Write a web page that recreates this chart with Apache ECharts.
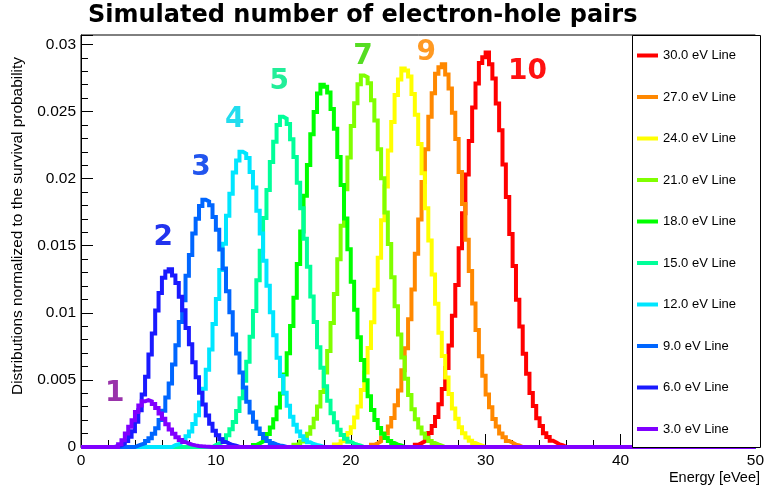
<!DOCTYPE html>
<html>
<head>
<meta charset="utf-8">
<script src="https://cdn.jsdelivr.net/npm/echarts@6/dist/echarts.min.js"></script>
<style>
  html, body { margin: 0; padding: 0; background: #fff; }
  #chart { width: 767px; height: 488px; }
</style>
</head>
<body>
<div id="chart"></div>
<script>
// Histogram binning (eVee)
const BIN_WIDTH = 0.25;
const X_MIN = 0;
const X_MAX = 50;

// One histogram per line energy, listed as in the legend (top to bottom)
const lineNames = ['30.0 eV Line', '27.0 eV Line', '24.0 eV Line', '21.0 eV Line', '18.0 eV Line',
                   '15.0 eV Line', '12.0 eV Line', '9.0 eV Line', '6.0 eV Line', '3.0 eV Line'];
const lineColors = ['#ff0000', '#ff8800', '#ffff00', '#80ff00', '#00ff00',
                    '#00ff99', '#00e6ff', '#0066ff', '#1a1aff', '#8000ff'];
// Low edge of the first non-empty bin of each histogram
const lineStarts = [24.75, 21.5, 18.75, 15.75, 12.75, 9.75, 6.75, 4.0, 2.5, 2.75];

// Bin contents (non-empty range), normalized to the survival probability
const h30 = [0.00017, 0.00029, 0.00043, 0.00071, 0.00104, 0.00157, 0.00224, 0.00318, 0.00433, 0.00588, 0.00757,
  0.00978, 0.01208, 0.01481, 0.01742, 0.02031, 0.02281, 0.02530, 0.02708, 0.02862, 0.02905,
  0.02940, 0.02852, 0.02745, 0.02560, 0.02361, 0.02105, 0.01862, 0.01588, 0.01349, 0.01098, 0.00897,
  0.00694, 0.00546, 0.00403, 0.00305, 0.00214, 0.00157, 0.00103, 0.00074, 0.00046, 0.00033, 0.00019, 0.00012];
const h27 = [0.00016, 0.00028, 0.00042, 0.00069, 0.00101, 0.00153, 0.00217, 0.00311, 0.00421, 0.00571, 0.00736,
  0.00951, 0.01174, 0.01440, 0.01695, 0.01975, 0.02218, 0.02461, 0.02636, 0.02781, 0.02830,
  0.02852, 0.02775, 0.02672, 0.02490, 0.02295, 0.02049, 0.01810, 0.01544, 0.01311, 0.01069, 0.00871,
  0.00677, 0.00531, 0.00392, 0.00297, 0.00208, 0.00153, 0.00101, 0.00072, 0.00045, 0.00032, 0.00018, 0.00012];
const h24 = [0.00018, 0.00026, 0.00043, 0.00067, 0.00104, 0.00147, 0.00219, 0.00302, 0.00424, 0.00556, 0.00738,
  0.00930, 0.01172, 0.01411, 0.01690, 0.01941, 0.02209, 0.02421, 0.02622, 0.02738, 0.02820,
  0.02805, 0.02760, 0.02630, 0.02476, 0.02258, 0.02040, 0.01779, 0.01539, 0.01286, 0.01068, 0.00852,
  0.00679, 0.00518, 0.00395, 0.00287, 0.00211, 0.00147, 0.00103, 0.00070, 0.00046, 0.00030, 0.00020, 0.00011];
const h21 = [0.00017, 0.00026, 0.00041, 0.00067, 0.00099, 0.00148, 0.00211, 0.00302, 0.00409, 0.00555, 0.00716,
  0.00924, 0.01141, 0.01399, 0.01648, 0.01921, 0.02157, 0.02392, 0.02561, 0.02703, 0.02768,
  0.02755, 0.02710, 0.02583, 0.02433, 0.02218, 0.02003, 0.01747, 0.01512, 0.01264, 0.01049, 0.00838,
  0.00666, 0.00509, 0.00388, 0.00282, 0.00207, 0.00145, 0.00101, 0.00068, 0.00045, 0.00029, 0.00019, 0.00011];
const h18 = [0.00015, 0.00027, 0.00040, 0.00066, 0.00096, 0.00145, 0.00206, 0.00295, 0.00398, 0.00541, 0.00698,
  0.00901, 0.01112, 0.01364, 0.01606, 0.01872, 0.02102, 0.02331, 0.02496, 0.02634, 0.02700,
  0.02685, 0.02641, 0.02518, 0.02371, 0.02161, 0.01952, 0.01703, 0.01474, 0.01231, 0.01022, 0.00817,
  0.00649, 0.00497, 0.00378, 0.00275, 0.00202, 0.00141, 0.00098, 0.00067, 0.00044, 0.00029, 0.00018, 0.00012];
const h15 = [0.00014, 0.00025, 0.00036, 0.00060, 0.00088, 0.00132, 0.00187, 0.00268, 0.00363, 0.00494, 0.00636,
  0.00821, 0.01013, 0.01242, 0.01463, 0.01706, 0.01915, 0.02124, 0.02274, 0.02399, 0.02460,
  0.02446, 0.02407, 0.02293, 0.02161, 0.01969, 0.01779, 0.01551, 0.01343, 0.01122, 0.00931, 0.00744,
  0.00591, 0.00452, 0.00345, 0.00251, 0.00184, 0.00128, 0.00090, 0.00061, 0.00040, 0.00026, 0.00017, 0.00010];
const h12 = [0.00014, 0.00020, 0.00034, 0.00052, 0.00080, 0.00115, 0.00171, 0.00236, 0.00331, 0.00434, 0.00576,
  0.00726, 0.00916, 0.01102, 0.01318, 0.01514, 0.01724, 0.01888, 0.02045, 0.02135, 0.02200,
  0.02186, 0.02153, 0.02050, 0.01933, 0.01761, 0.01591, 0.01388, 0.01201, 0.01004, 0.00833, 0.00665,
  0.00529, 0.00404, 0.00308, 0.00225, 0.00165, 0.00115, 0.00080, 0.00054, 0.00036, 0.00023, 0.00015, 0.00009];
const h9 = [0.00010, 0.00019, 0.00027, 0.00045, 0.00065, 0.00099, 0.00140, 0.00202, 0.00271, 0.00369, 0.00474,
  0.00615, 0.00758, 0.00931, 0.01093, 0.01276, 0.01431, 0.01590, 0.01700, 0.01796, 0.01842,
  0.01829, 0.01801, 0.01714, 0.01618, 0.01472, 0.01331, 0.01160, 0.01005, 0.00839, 0.00697, 0.00556,
  0.00443, 0.00338, 0.00258, 0.00188, 0.00137, 0.00097, 0.00067, 0.00045, 0.00030, 0.00019, 0.00012, 0.00008];
const h6 = [0.00007, 0.00012, 0.00026, 0.00044, 0.00077, 0.00118, 0.00188, 0.00273, 0.00392, 0.00524, 0.00690,
  0.00845, 0.01018, 0.01147, 0.01262, 0.01308,
  0.01324, 0.01277, 0.01222, 0.01120, 0.01019, 0.00886, 0.00766, 0.00631, 0.00519, 0.00405, 0.00316,
  0.00234, 0.00174, 0.00122, 0.00087, 0.00057, 0.00038, 0.00025, 0.00015, 0.00009];
const h3 = [0.00020, 0.00050, 0.00100, 0.00150, 0.00200, 0.00260, 0.00310, 0.00340, 0.00350, 0.00340, 0.00320,
  0.00290, 0.00250, 0.00210, 0.00170, 0.00130, 0.00098, 0.00072, 0.00052, 0.00037, 0.00026, 0.00018,
  0.00012, 0.00008, 0.00005, 0.00003, 0.00002];
const lineValues = [h30, h27, h24, h21, h18, h15, h12, h9, h6, h3];

// Number of electron-hole pairs written next to the peaks
const pairLabels = ['1', '2', '3', '4', '5', '7', '9', '10'];
const pairLabelEnergy = [2.5, 6.1, 8.9, 11.4, 14.7, 20.9, 25.6, 33.1];
const pairLabelValue = [0.0040, 0.0156, 0.0208, 0.0244, 0.0272, 0.0291, 0.0294, 0.0280];
const pairLabelColors = ['#9933aa', '#2233ee', '#2255ee', '#22ddee', '#22ee99', '#55dd22', '#ff9922', '#ff1111'];

// Axis settings
const Y_MAX = 0.0307;
const Y_MAJOR = 0.005;
const Y_MINOR = 0.001;
const X_MAJOR = 10;

const TEXT_FONT = '"Liberation Sans", Arial, sans-serif';
const BOLD_FONT = '"DejaVu Sans", Verdana, sans-serif';

// Full histogram as bin low edges plus a closing point at the upper range edge
function histPoints(start, values) {
  const nBins = Math.round((X_MAX - X_MIN) / BIN_WIDTH);
  const first = Math.round((start - X_MIN) / BIN_WIDTH);
  const pts = [];
  for (let k = 0; k < nBins; k++) {
    const j = k - first;
    const v = (j >= 0 && j < values.length) ? values[j] : 0;
    pts.push([X_MIN + k * BIN_WIDTH, v]);
  }
  pts.push([X_MAX, pts[nBins - 1][1]]);
  return pts;
}

const histSeries = lineNames.map((name, i) => ({
  name: name,
  type: 'line',
  step: 'end',
  showSymbol: false,
  symbol: 'none',
  color: lineColors[i],
  lineStyle: { color: lineColors[i], width: 4, join: 'miter', cap: 'butt' },
  data: histPoints(lineStarts[i], lineValues[i]),
  silent: true,
  animation: false,
  emphasis: { disabled: true },
  z: 2
}));

const labelSeries = {
  type: 'scatter',
  symbolSize: 1,
  itemStyle: { color: 'rgba(0,0,0,0)', opacity: 1 },
  silent: true,
  animation: false,
  emphasis: { disabled: true },
  z: 5,
  data: pairLabels.map((t, i) => ({
    name: t,
    value: [pairLabelEnergy[i], pairLabelValue[i]],
    label: { color: pairLabelColors[i] }
  })),
  label: {
    show: true,
    position: 'inside',
    opacity: 1,
    formatter: p => p.name,
    fontFamily: BOLD_FONT,
    fontWeight: 'bold',
    fontSize: 28
  }
};

const chart = echarts.init(document.getElementById('chart'), null, { renderer: 'canvas' });

chart.setOption({
  animation: false,
  backgroundColor: '#fff',
  title: {
    text: 'Simulated number of electron-hole pairs',
    left: 88,
    top: 4,
    padding: 0,
    textStyle: { fontFamily: BOLD_FONT, fontWeight: 'bold', fontSize: 24, color: '#000' }
  },
  grid: {
    left: 81, right: 6, top: 35, bottom: 41,
    show: true, borderColor: '#000', borderWidth: 1, backgroundColor: '#fff'
  },
  xAxis: [{
    type: 'value', min: X_MIN, max: X_MAX, interval: X_MAJOR,
    axisLine: { show: true, onZero: false, lineStyle: { color: '#000', width: 1 } },
    axisTick: { show: true, inside: true, length: 13, lineStyle: { color: '#000', width: 1 } },
    minorTick: { show: true, splitNumber: 5, length: 7, lineStyle: { color: '#000', width: 1 } },
    axisLabel: { margin: 6, fontFamily: TEXT_FONT, fontSize: 15.5, color: '#000' },
    splitLine: { show: false },
    minorSplitLine: { show: false }
  }],
  yAxis: [{
    type: 'value', min: 0, max: Y_MAX, interval: Y_MAJOR, position: 'left',
    axisLine: { show: true, onZero: false, lineStyle: { color: '#000', width: 1 } },
    axisTick: { show: true, inside: true, length: 12, lineStyle: { color: '#000', width: 1 } },
    axisLabel: {
      margin: 5, fontFamily: TEXT_FONT, fontSize: 15.5, color: '#000', showMaxLabel: true,
      formatter: v => {
        const q = v / Y_MAJOR;
        return Math.abs(q - Math.round(q)) < 1e-6 ? String(+v.toFixed(3)) : '';
      }
    },
    splitLine: { show: false }
  }, {
    type: 'value', min: 0, max: Y_MAX, interval: Y_MINOR, position: 'left',
    axisLine: { show: false },
    axisTick: { show: true, inside: true, length: 7, lineStyle: { color: '#000', width: 1 } },
    axisLabel: { show: false },
    splitLine: { show: false }
  }],
  legend: {
    orient: 'vertical',
    left: 637,
    top: 49,
    padding: 0,
    itemWidth: 21,
    itemHeight: 4,
    itemGap: 28.5,
    icon: 'rect',
    selectedMode: false,
    z: 20,
    data: lineNames,
    textStyle: { fontFamily: TEXT_FONT, fontSize: 13, color: '#000' }
  },
  graphic: [
    {
      type: 'rect', z: 10, silent: true,
      shape: { x: 632.5, y: 35.5, width: 128, height: 412 },
      style: { fill: '#fff', stroke: '#000', lineWidth: 1 }
    },
    {
      type: 'text', z: 10, silent: true,
      x: 18, y: 226, rotation: Math.PI / 2,
      style: {
        text: 'Distributions normalized to the survival probability',
        font: '15.4px ' + TEXT_FONT, fill: '#000',
        textAlign: 'center', textVerticalAlign: 'middle'
      }
    },
    {
      type: 'text', z: 10, silent: true,
      x: 760, y: 478,
      style: {
        text: 'Energy [eVee]',
        font: '14.5px ' + TEXT_FONT, fill: '#000',
        textAlign: 'right', textVerticalAlign: 'middle'
      }
    }
  ],
  series: histSeries.concat([labelSeries])
});
</script>
</body>
</html>
